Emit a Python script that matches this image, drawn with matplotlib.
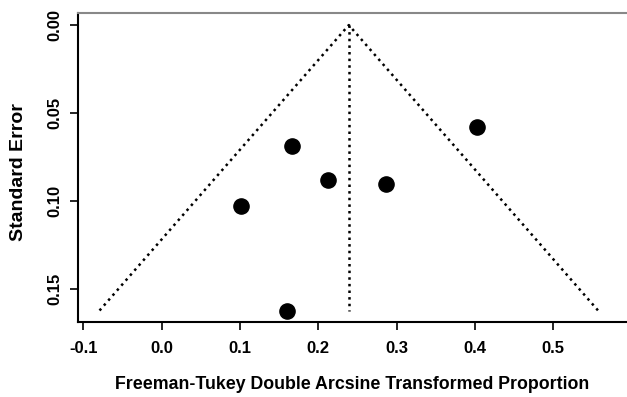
import matplotlib.pyplot as plt

plt.rcParams['font.family'] = ['Liberation Sans', 'DejaVu Sans']
plt.rcParams['font.weight'] = 'bold'

# transformed proportions and their standard errors
effects = [0.166, 0.212, 0.286, 0.402, 0.102, 0.160]
std_errors = [0.069, 0.088, 0.0905, 0.058, 0.103, 0.1625]

pooled = 0.239
se_max = 0.1623

xticks = [-0.1, 0.0, 0.1, 0.2, 0.3, 0.4, 0.5]
yticks = [0.00, 0.05, 0.10, 0.15]

fig = plt.figure(figsize=(6.27, 3.97), dpi=100)
ax = fig.add_axes([0.1244, 0.189, 0.8756, 0.778])

# funnel: pooled estimate +/- 1.96 SE
lo = pooled - 1.96 * se_max
hi = pooled + 1.96 * se_max
ax.plot([lo, pooled, hi], [se_max, 0, se_max], color='black', linestyle=':', linewidth=1.8)
ax.plot([pooled, pooled], [0, se_max], color='black', linestyle=':', linewidth=1.8)

ax.scatter(effects, std_errors, s=120, color='black', zorder=3)

ax.set_xlim(-0.1066, 0.594)
ax.set_ylim(0.1688, -0.0068)
ax.set_xticks(xticks)
ax.set_xticklabels(['-0.1', '0.0', '0.1', '0.2', '0.3', '0.4', '0.5'])
ax.set_yticks(yticks)
ax.set_yticklabels(['0.00', '0.05', '0.10', '0.15'], rotation=90, va='center')
ax.tick_params(direction='out', length=6, width=1.2, labelsize=12)
ax.tick_params(axis='x', pad=8)
ax.tick_params(axis='y', pad=5)

ax.spines['right'].set_visible(False)
ax.spines['top'].set_color('#888888')
for side in ['left', 'bottom', 'top']:
    ax.spines[side].set_linewidth(1.5)

ax.set_xlabel('Freeman-Tukey Double Arcsine Transformed Proportion', fontsize=12.8, fontweight='bold', va='center')
ax.xaxis.set_label_coords(0.5, -0.204)
ax.set_ylabel('Standard Error', fontsize=14, fontweight='bold', va='center')
ax.yaxis.set_label_coords(-0.109, 0.485)

fig.savefig('out.png', dpi=100)
